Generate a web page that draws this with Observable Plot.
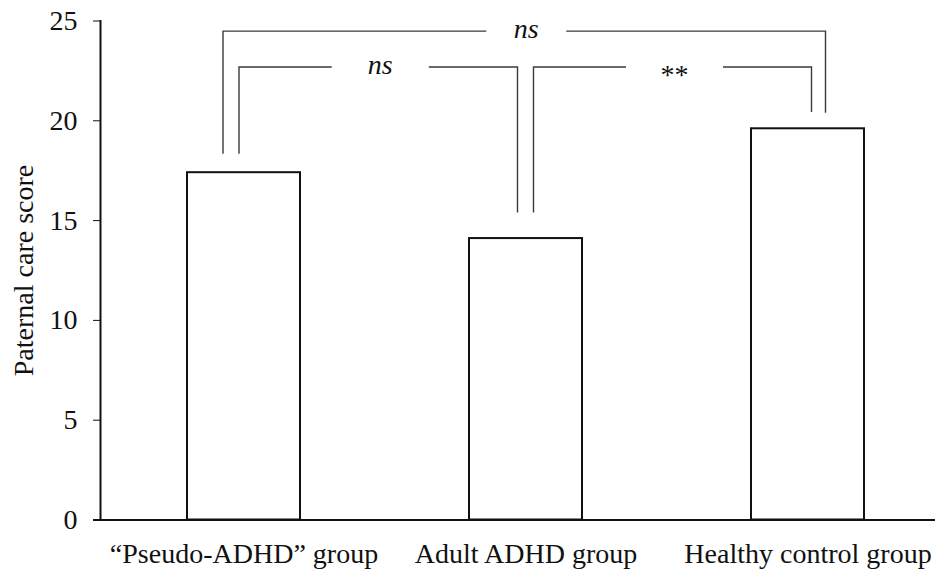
<!DOCTYPE html>
<html>
<head>
<meta charset="utf-8">
<script src="https://cdn.jsdelivr.net/npm/d3@7"></script>
<script src="https://cdn.jsdelivr.net/npm/@observablehq/plot@0.6"></script>
<style>
  html, body { margin: 0; padding: 0; background: #fff; }
  #chart svg { display: block; }
</style>
</head>
<body>
<div id="chart"></div>
<script>
// ---- data ----
const groups = ["\u201CPseudo-ADHD\u201D group", "Adult ADHD group", "Healthy control group"];
const scores = [17.4, 14.1, 19.6];
const yTicks = [0, 5, 10, 15, 20, 25];
const yLabel = "Paternal care score";

// significance brackets: from group, to group, bracket height, drop ends (score units), label
const bracketFrom  = [groups[0], groups[0], groups[1]];
const bracketTo    = [groups[2], groups[1], groups[2]];
const bracketY     = [24.47, 22.67, 22.67];
const bracketEndL  = [18.33, 18.33, 15.38];
const bracketEndR  = [20.38, 15.38, 20.42];
const bracketLabel = ["ns", "ns", "**"];

const data = groups.map((g, i) => ({group: g, score: scores[i]}));
const brackets = bracketFrom.map((f, i) => ({
  from: f, to: bracketTo[i], y: bracketY[i], y1: bracketEndL[i], y2: bracketEndR[i], label: bracketLabel[i]
}));

// ---- styling (pixel offsets of bracket legs from band centres, half-gap for text) ----
const legOffsets = [[-20.5, 18], [-4.5, -8], [8, 4]];
const gapHalf = [40, 48.5, 48.5];
const FONT = "'Liberation Serif', 'Times New Roman', Times, serif";

function bracketMark(index, scales) {
  const x = scales.x, y = scales.y;
  const bw = typeof x.bandwidth === "function" ? x.bandwidth() : (x.bandwidth || 0);
  const cx = (g) => x(g) + bw / 2;
  const g = d3.create("svg:g")
    .attr("fill", "none")
    .attr("stroke", "#3a3a3a")
    .attr("stroke-width", 1.4);
  brackets.forEach((b, i) => {
    const xl = cx(b.from) + legOffsets[i][0];
    const xr = cx(b.to) + legOffsets[i][1];
    const yy = y(b.y);
    const mid = (xl + xr) / 2 + 2;
    const path = d3.path();
    path.moveTo(xl, y(b.y1)); path.lineTo(xl, yy); path.lineTo(mid - gapHalf[i], yy);
    path.moveTo(mid + gapHalf[i], yy); path.lineTo(xr, yy); path.lineTo(xr, y(b.y2));
    g.append("path").attr("d", path.toString());
    const t = g.append("text")
      .attr("x", mid)
      .attr("y", yy)
      .attr("stroke", "none")
      .attr("fill", "#111")
      .attr("text-anchor", "middle")
      .attr("font-family", FONT)
      .attr("font-size", 28)
      .text(b.label);
    if (b.label === "ns") t.attr("font-style", "italic").attr("dy", "0.25em");
    else t.attr("dy", "0.62em");
  });
  return g.node();
}

const chart = Plot.plot({
  width: 942,
  height: 571,
  marginTop: 20.5,
  marginBottom: 51.5,
  marginLeft: 100,
  marginRight: 7,
  style: {fontFamily: FONT, fontSize: "28px", color: "#111", background: "#fff"},
  x: {
    domain: groups,
    paddingInner: 0.6,
    paddingOuter: 0.278,
    align: 0.548,
    tickSize: 0,
    tickPadding: 23,
    label: null
  },
  y: {
    domain: [0, 25],
    ticks: yTicks,
    tickSize: 7,
    tickPadding: 16,
    label: null
  },
  marks: [
    Plot.barY(data, {x: "group", y: "score", fill: "white", stroke: "#111", strokeWidth: 2}),
    Plot.ruleY([0], {stroke: "#111", strokeWidth: 2, insetLeft: -7}),
    Plot.frame({anchor: "left", stroke: "#111", strokeWidth: 2}),
    Plot.text([yLabel], {
      text: (d) => d,
      frameAnchor: "left",
      textAnchor: "middle",
      rotate: -90,
      dx: -76,
      fontSize: 28,
      fill: "#111"
    }),
    bracketMark
  ]
});
document.getElementById("chart").appendChild(chart);
</script>
</body>
</html>
